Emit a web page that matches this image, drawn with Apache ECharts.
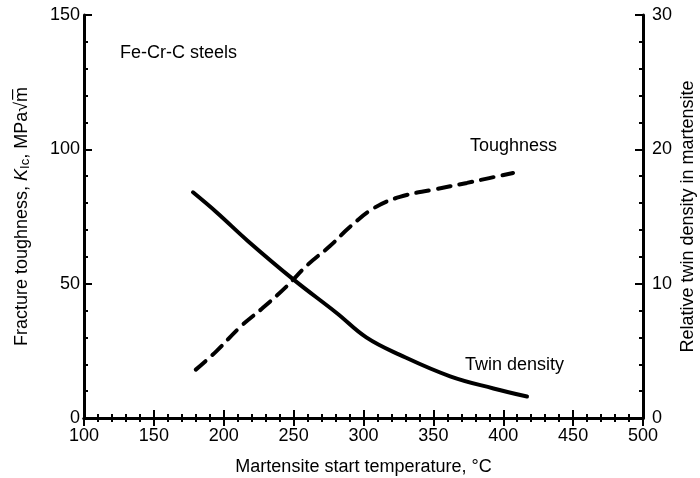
<!DOCTYPE html>
<html><head><meta charset="utf-8">
<script src="https://cdn.jsdelivr.net/npm/echarts@6/dist/echarts.min.js"></script>
<style>html,body{margin:0;padding:0;background:#fff}#c{width:700px;height:478px}</style>
</head><body><div id="c"></div>
<script>
// Toughness (left axis, MPa√m) vs martensite start temperature
const toughTemp = [180, 195, 212, 228, 245, 260, 276, 290, 307, 326, 350, 374, 390, 407];
const toughVal  = [18, 25, 34, 41, 49, 57, 64, 71, 78, 82.3, 85, 87.5, 89.3, 91.2];
// Twin density (right axis)
const twinTemp = [178, 195, 217, 250, 281, 302, 326, 362, 393, 417];
const twinVal  = [16.8, 15.3, 13.2, 10.3, 7.8, 6.0, 4.7, 3.1, 2.2, 1.6];
const xTicks = [100, 150, 200, 250, 300, 350, 400, 450, 500];
const yLeftTicks = [0, 50, 100, 150];
const yRightTicks = [0, 10, 20, 30];

const FONT = 'Liberation Sans';
const FS = 18;
const chart = echarts.init(document.getElementById('c'));
const axisCommon = {
  axisLine: {show: true, lineStyle: {color: '#000', width: 3}},
  axisTick: {show: true, inside: true, length: 8, lineStyle: {color: '#000', width: 2}},
  minorTick: {show: true, splitNumber: 5, length: 4, lineStyle: {color: '#000', width: 2}},
  splitLine: {show: false},
  axisLabel: {color: '#000', fontFamily: FONT, fontSize: FS}
};
chart.setOption({
  animation: false,
  backgroundColor: '#fff',
  grid: {left: 84, right: 57, top: 15, bottom: 60, outerBoundsMode: 'none'},
  xAxis: [
    Object.assign({}, axisCommon, {type: 'value', position: 'bottom', min: xTicks[0], max: xTicks[xTicks.length-1], interval: 50,
      name: 'Martensite start temperature, °C', nameLocation: 'middle', nameGap: 40,
      nameTextStyle: {color: '#000', fontFamily: FONT, fontSize: FS},
      axisLabel: Object.assign({}, axisCommon.axisLabel, {margin: 9})}),
    Object.assign({}, axisCommon, {type: 'value', position: 'top', min: xTicks[0], max: xTicks[xTicks.length-1], interval: 50,
      axisLabel: {show: false}})
  ],
  yAxis: [
    Object.assign({}, axisCommon, {type: 'value', position: 'left', min: yLeftTicks[0], max: yLeftTicks[yLeftTicks.length-1], interval: 50,
      name: '{a|Fracture toughness, }{i|K}{s|Ic}{a|, MPa√m̅}', nameLocation: 'middle', nameGap: 52, nameRotate: 90,
      nameTextStyle: {color: '#000', fontFamily: FONT, fontSize: FS,
        rich: {a: {fontFamily: FONT, fontSize: FS, color: '#000'},
               i: {fontFamily: FONT, fontSize: FS, fontStyle: 'italic', color: '#000'},
               s: {fontFamily: FONT, fontSize: 13, color: '#000', padding: [7, 0, 0, 0]}}},
      axisLabel: Object.assign({}, axisCommon.axisLabel, {margin: 4})}),
    Object.assign({}, axisCommon, {type: 'value', position: 'right', min: yRightTicks[0], max: yRightTicks[yRightTicks.length-1], interval: 10,
      name: 'Relative twin density in martensite', nameLocation: 'middle', nameGap: 36, nameRotate: 90,
      nameMoveOverlap: false,
      nameTextStyle: {color: '#000', fontFamily: FONT, fontSize: FS},
      axisLabel: Object.assign({}, axisCommon.axisLabel, {margin: 9})})
  ],
  series: [
    {type: 'line', xAxisIndex: 0, yAxisIndex: 0, smooth: 0.4, symbol: 'none',
     lineStyle: {color: '#000', width: 4, type: [13, 9], cap: 'round'},
     data: toughTemp.map((t, i) => [t, toughVal[i]])},
    {type: 'line', xAxisIndex: 0, yAxisIndex: 1, smooth: 0.4, symbol: 'none',
     lineStyle: {color: '#000', width: 4, cap: 'round'},
     data: twinTemp.map((t, i) => [t, twinVal[i]])}
  ],
  graphic: [
    {type: 'text', left: 120, top: 44, style: {text: 'Fe-Cr-C steels', fill: '#000', font: '18px "Liberation Sans"'}},
    {type: 'text', left: 470, top: 137, style: {text: 'Toughness', fill: '#000', font: '18px "Liberation Sans"'}},
    {type: 'text', left: 465, top: 356, style: {text: 'Twin density', fill: '#000', font: '18px "Liberation Sans"'}}
  ]
});
</script></body></html>
